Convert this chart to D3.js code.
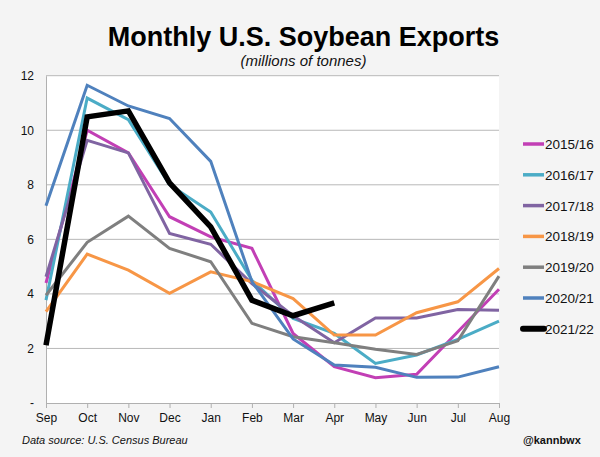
<!DOCTYPE html>
<html>
<head>
<meta charset="utf-8">
<script src="https://cdn.jsdelivr.net/npm/d3@7/dist/d3.min.js"></script>
<style>
	body { margin: 0; background: #f4f4f4; }
	svg { display: block; font-family: "Liberation Sans", Arial, sans-serif; }
</style>
</head>
<body>
<div id="chart"></div>
<script>
// months of the marketing year
var months = ["Sep", "Oct", "Nov", "Dec", "Jan", "Feb", "Mar", "Apr", "May", "Jun", "Jul", "Aug"];
var seasons = ["2015/16", "2016/17", "2017/18", "2018/19", "2019/20", "2020/21", "2021/22"];
var yTicks = [0, 2, 4, 6, 8, 10, 12];

// millions of tonnes
var s1516 = [4.4, 10.0, 9.17, 6.83, 6.09, 5.67, 2.55, 1.33, 0.93, 1.05, 2.61, 4.17];
var s1617 = [3.77, 11.18, 10.39, 8.0, 7.0, 4.5, 3.1, 2.55, 1.45, 1.76, 2.33, 3.0];
var s1718 = [4.63, 9.63, 9.17, 6.22, 5.82, 4.38, 3.2, 2.21, 3.12, 3.12, 3.43, 3.4];
var s1819 = [3.35, 5.46, 4.87, 4.02, 4.81, 4.45, 3.83, 2.49, 2.49, 3.31, 3.71, 4.93];
var s1920 = [3.95, 5.89, 6.85, 5.67, 5.18, 2.92, 2.43, 2.21, 1.97, 1.78, 2.28, 4.65];
var s2021 = [7.23, 11.65, 10.89, 10.43, 8.86, 4.45, 2.35, 1.39, 1.31, 0.94, 0.95, 1.33];
var s2122 = [2.12, 10.49, 10.71, 8.07, 6.46, 3.77, 3.2, 3.67];

var seriesValues = [s1516, s1617, s1718, s1819, s1920, s2021, s2122];
var colors = ["#c23fb5", "#4bacc6", "#8064a2", "#f79646", "#7f7f7f", "#4f81bd", "#000000"];

var W = 600, H = 457;
var margin = { left: 46, right: 101, top: 75.7, bottom: 54 };

var svg = d3.select("#chart").append("svg")
	.attr("width", W)
	.attr("height", H);

svg.append("rect").attr("width", W).attr("height", H).attr("fill", "#f4f4f4");

var x = d3.scalePoint()
	.domain(months)
	.range([margin.left, W - margin.right]);

var y = d3.scaleLinear()
	.domain([0, 12])
	.range([H - margin.bottom, margin.top]);

// plot area
svg.append("rect")
	.attr("x", margin.left)
	.attr("y", margin.top)
	.attr("width", W - margin.right - margin.left)
	.attr("height", H - margin.bottom - margin.top)
	.attr("fill", "#ffffff");

// gridlines
svg.append("g")
	.selectAll("line")
	.data(yTicks.filter(function(d){ return d > 0; }))
	.enter().append("line")
	.attr("x1", margin.left)
	.attr("x2", W - margin.right)
	.attr("y1", function(d){ return y(d); })
	.attr("y2", function(d){ return y(d); })
	.attr("stroke", "#b8b8b8")
	.attr("stroke-width", 1);

// y axis
var yAxis = svg.append("g")
	.attr("transform", "translate(" + margin.left + ",0)")
	.call(d3.axisLeft(y)
		.tickValues(yTicks)
		.tickSize(0)
		.tickPadding(12)
		.tickFormat(function(d){ return d === 0 ? "-" : d; }));
yAxis.select(".domain").attr("stroke", "#b0b0b0");
yAxis.selectAll("text").attr("font-size", "12px").attr("fill", "#111").attr("font-family", "Liberation Sans, Arial, sans-serif");

// x axis
var xAxis = svg.append("g")
	.attr("transform", "translate(0," + (H - margin.bottom) + ")")
	.call(d3.axisBottom(x).tickSize(5).tickPadding(5).tickSizeOuter(0));
xAxis.select(".domain").attr("stroke", "#b0b0b0");
xAxis.selectAll(".tick line").attr("stroke", "#b0b0b0");
xAxis.selectAll("text").attr("font-size", "12px").attr("fill", "#111").attr("font-family", "Liberation Sans, Arial, sans-serif");

// lines
var line = d3.line()
	.x(function(d, i){ return x(months[i]); })
	.y(function(d){ return y(d); });

svg.append("g")
	.selectAll("path")
	.data(seriesValues)
	.enter().append("path")
	.attr("d", line)
	.attr("fill", "none")
	.attr("stroke", function(d, i){ return colors[i]; })
	.attr("stroke-width", function(d, i){ return i === 6 ? 5.5 : 3; })
	.attr("stroke-linejoin", "miter");

// legend
var legend = svg.append("g")
	.selectAll("g")
	.data(seasons)
	.enter().append("g")
	.attr("transform", function(d, i){ return "translate(523," + (144 + i * 30.8) + ")"; });

legend.append("line")
	.attr("x1", 0).attr("x2", 21)
	.attr("stroke", function(d, i){ return colors[i]; })
	.attr("stroke-width", function(d, i){ return i === 6 ? 6 : 3.5; })
	.attr("stroke-linecap", function(d, i){ return i === 6 ? "round" : "butt"; });

legend.append("text")
	.attr("x", 22)
	.attr("y", 5)
	.attr("font-size", "13.5px")
	.attr("fill", "#111")
	.text(function(d){ return d; });

// titles
svg.append("text")
	.attr("x", 303.5).attr("y", 46)
	.attr("text-anchor", "middle")
	.attr("font-size", "27px")
	.attr("font-weight", "bold")
	.attr("fill", "#000")
	.text("Monthly U.S. Soybean Exports");

svg.append("text")
	.attr("x", 303.5).attr("y", 66)
	.attr("text-anchor", "middle")
	.attr("font-size", "15px")
	.attr("font-style", "italic")
	.attr("fill", "#111")
	.text("(millions of tonnes)");

svg.append("text")
	.attr("x", 22).attr("y", 444)
	.attr("font-size", "11px")
	.attr("font-style", "italic")
	.attr("fill", "#111")
	.text("Data source: U.S. Census Bureau");

svg.append("text")
	.attr("x", 523).attr("y", 444)
	.attr("font-size", "11px")
	.attr("font-weight", "bold")
	.attr("fill", "#111")
	.text("@kannbwx");
</script>
</body>
</html>
